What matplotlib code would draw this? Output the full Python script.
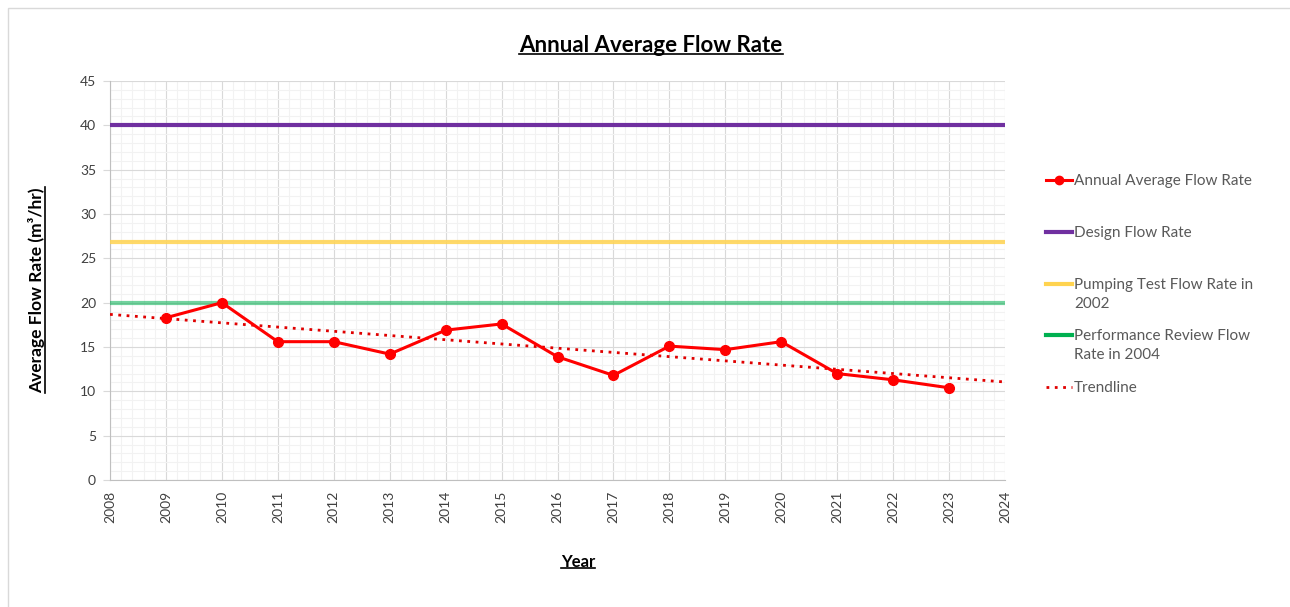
import numpy as np
import matplotlib
matplotlib.use("Agg")
import matplotlib.pyplot as plt
from matplotlib.lines import Line2D
from matplotlib.patches import Rectangle
from matplotlib.ticker import MultipleLocator

plt.rcParams['font.family'] = ['Lato', 'DejaVu Sans']

# data
years = [2009, 2010, 2011, 2012, 2013, 2014, 2015, 2016,
         2017, 2018, 2019, 2020, 2021, 2022, 2023]
flow = [18.3, 20.0, 15.6, 15.6, 14.2, 16.9, 17.6, 13.9,
        11.8, 15.1, 14.7, 15.6, 12.0, 11.3, 10.4]
design_rate = 40.0
pumping_rate = 26.8
review_rate = 20.0
x_range = [2008, 2024]

W, H = 1290, 607
fig = plt.figure(figsize=(W / 100, H / 100), dpi=100)
ax = fig.add_axes([110 / W, 1 - 480 / H, (1005 - 110) / W, (480 - 81) / H])

# border of the chart area
fig.patches.append(Rectangle((8 / W, -0.01), 1.1, 1 - 8 / H + 0.01, transform=fig.transFigure,
                             fill=False, edgecolor='#D9D9D9', linewidth=1))

ax.set_xlim(x_range)
ax.set_ylim(0, 45)
ax.xaxis.set_major_locator(MultipleLocator(1))
ax.xaxis.set_minor_locator(MultipleLocator(0.2))
ax.yaxis.set_major_locator(MultipleLocator(5))
ax.yaxis.set_minor_locator(MultipleLocator(1))
ax.grid(which='major', color='#D9D9D9', linewidth=0.8)
ax.grid(which='minor', color='#F2F2F2', linewidth=0.8)
ax.set_axisbelow(True)
for s in ['top', 'right']:
    ax.spines[s].set_visible(False)
for s in ['left', 'bottom']:
    ax.spines[s].set_color('#BFBFBF')
ax.tick_params(axis='y', which='major', length=5, color='#D9D9D9', labelsize=10,
               labelcolor='#404040', pad=5)
ax.tick_params(axis='x', which='major', length=0, labelsize=10, labelcolor='#404040',
               labelrotation=90, pad=8)
ax.tick_params(which='minor', length=0)

# reference lines
ax.axhline(design_rate, color='#7030A0', linewidth=3, zorder=3)
ax.axhline(pumping_rate, color='#FFD34F', linewidth=3, alpha=0.85, zorder=3)
ax.axhline(review_rate, color='#00B050', linewidth=3, alpha=0.55, zorder=3)

# linear trend of the measured data
coef = np.polyfit(years, flow, 1)
tx = np.array(x_range)
ax.plot(tx, np.polyval(coef, tx), color='#E00000', linestyle=(0, (1, 2)),
        linewidth=2, zorder=4)

ax.plot(years, flow, color='#FF0000', linewidth=2.2, marker='o', markersize=7, zorder=5)

# legend drawn entry by entry (Excel style: handle level with first text line)
entries = [
    ('Annual Average Flow Rate', dict(color='#FF0000', linewidth=2.2, marker='o', markersize=6,
                                      markevery=[1])),
    ('Design Flow Rate', dict(color='#7030A0', linewidth=3)),
    ('Pumping Test Flow Rate in\n2002', dict(color='#FFD34F', linewidth=3)),
    ('Performance Review Flow\nRate in 2004', dict(color='#00B050', linewidth=3)),
    ('Trendline', dict(color='#E00000', linewidth=2, linestyle=(0, (1, 2)))),
]
leg_y = [180, 232, 284, 335, 387]
for (lab, style), yy in zip(entries, leg_y):
    fy = 1 - yy / H
    fig.add_artist(Line2D([1046 / W, 1059 / W, 1072 / W], [fy, fy, fy], **style))
    fig.text(1074 / W, fy + 6 / H, lab, ha='left', va='top', fontsize=11, color='#595959',
             linespacing=1.45)

# texts with underline
texts = [
    fig.text(651 / W, 1 - 45 / H, 'Annual Average Flow Rate', ha='center', va='center',
             fontsize=16, fontweight='bold', color='#000000'),
    fig.text(578 / W, 1 - 562 / H, 'Year', ha='center', va='center',
             fontsize=12, fontweight='bold', color='#000000'),
    fig.text(37 / W, 1 - 290 / H, 'Average Flow Rate (m³/hr)', ha='center', va='center',
             rotation=90, fontsize=12.5, fontweight='bold', color='#000000'),
]
fig.canvas.draw()
r = fig.canvas.get_renderer()
for t in texts:
    bb = t.get_window_extent(r)
    if t.get_rotation() == 90:
        x = (bb.x1 - 1) / W
        fig.add_artist(Line2D([x, x], [bb.y0 / H, bb.y1 / H], color='black', linewidth=1.2))
    else:
        y = (bb.y0 + 2) / H
        fig.add_artist(Line2D([bb.x0 / W, bb.x1 / W], [y, y], color='black', linewidth=1.2))

fig.savefig('out.png', dpi=100, facecolor='white')
